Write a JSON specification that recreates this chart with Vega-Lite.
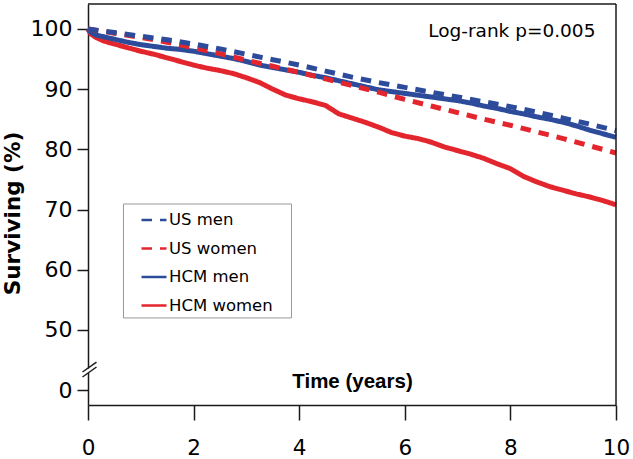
{
  "$schema": "https://vega.github.io/schema/vega-lite/v6.json",
  "width": 528,
  "height": 401,
  "autosize": {"type": "none"},
  "padding": {"left": 88, "top": 4, "right": 17, "bottom": 54},
  "config": {
    "view": {"stroke": null},
    "font": "DejaVu Sans",
    "axis": {"grid": false, "domainColor": "#1a1a1a", "tickColor": "#1a1a1a", "domainWidth": 1.5, "tickWidth": 1.5, "labelColor": "black", "titleColor": "black", "labelFont": "DejaVu Sans", "titleFont": "DejaVu Sans"}
  },
  "datasets": {
    "hcm": [
      {"group": "HCM women", "t": 0, "v": 100}, {"group": "HCM women", "t": 0.05, "v": 99.2}, {"group": "HCM women", "t": 0.15, "v": 98.6}, {"group": "HCM women", "t": 0.3, "v": 98.0}, {"group": "HCM women", "t": 0.5, "v": 97.5}, {"group": "HCM women", "t": 0.75, "v": 96.9}, {"group": "HCM women", "t": 1.0, "v": 96.3}, {"group": "HCM women", "t": 1.25, "v": 95.8}, {"group": "HCM women", "t": 1.5, "v": 95.2}, {"group": "HCM women", "t": 1.75, "v": 94.6}, {"group": "HCM women", "t": 2.0, "v": 94.0}, {"group": "HCM women", "t": 2.25, "v": 93.5}, {"group": "HCM women", "t": 2.5, "v": 93.1}, {"group": "HCM women", "t": 2.75, "v": 92.6}, {"group": "HCM women", "t": 3.0, "v": 91.9}, {"group": "HCM women", "t": 3.25, "v": 91.1}, {"group": "HCM women", "t": 3.5, "v": 90.0}, {"group": "HCM women", "t": 3.75, "v": 89.0}, {"group": "HCM women", "t": 4.0, "v": 88.4}, {"group": "HCM women", "t": 4.25, "v": 87.9}, {"group": "HCM women", "t": 4.5, "v": 87.3}, {"group": "HCM women", "t": 4.75, "v": 85.9}, {"group": "HCM women", "t": 5.0, "v": 85.2}, {"group": "HCM women", "t": 5.25, "v": 84.5}, {"group": "HCM women", "t": 5.5, "v": 83.7}, {"group": "HCM women", "t": 5.75, "v": 82.8}, {"group": "HCM women", "t": 6.0, "v": 82.2}, {"group": "HCM women", "t": 6.25, "v": 81.8}, {"group": "HCM women", "t": 6.5, "v": 81.2}, {"group": "HCM women", "t": 6.75, "v": 80.4}, {"group": "HCM women", "t": 7.0, "v": 79.8}, {"group": "HCM women", "t": 7.25, "v": 79.2}, {"group": "HCM women", "t": 7.5, "v": 78.5}, {"group": "HCM women", "t": 7.75, "v": 77.6}, {"group": "HCM women", "t": 8.0, "v": 76.8}, {"group": "HCM women", "t": 8.25, "v": 75.5}, {"group": "HCM women", "t": 8.5, "v": 74.6}, {"group": "HCM women", "t": 8.75, "v": 73.8}, {"group": "HCM women", "t": 9.0, "v": 73.2}, {"group": "HCM women", "t": 9.25, "v": 72.6}, {"group": "HCM women", "t": 9.5, "v": 72.1}, {"group": "HCM women", "t": 9.75, "v": 71.5}, {"group": "HCM women", "t": 10.0, "v": 70.8},
      {"group": "HCM men", "t": 0, "v": 100}, {"group": "HCM men", "t": 0.05, "v": 99.5}, {"group": "HCM men", "t": 0.15, "v": 99.0}, {"group": "HCM men", "t": 0.3, "v": 98.7}, {"group": "HCM men", "t": 0.5, "v": 98.3}, {"group": "HCM men", "t": 0.75, "v": 97.8}, {"group": "HCM men", "t": 1.0, "v": 97.4}, {"group": "HCM men", "t": 1.25, "v": 97.1}, {"group": "HCM men", "t": 1.5, "v": 96.8}, {"group": "HCM men", "t": 1.75, "v": 96.6}, {"group": "HCM men", "t": 2.0, "v": 96.3}, {"group": "HCM men", "t": 2.25, "v": 95.9}, {"group": "HCM men", "t": 2.5, "v": 95.5}, {"group": "HCM men", "t": 2.75, "v": 95.1}, {"group": "HCM men", "t": 3.0, "v": 94.6}, {"group": "HCM men", "t": 3.25, "v": 94.0}, {"group": "HCM men", "t": 3.5, "v": 93.6}, {"group": "HCM men", "t": 3.75, "v": 93.2}, {"group": "HCM men", "t": 4.0, "v": 92.8}, {"group": "HCM men", "t": 4.25, "v": 92.3}, {"group": "HCM men", "t": 4.5, "v": 91.9}, {"group": "HCM men", "t": 4.75, "v": 91.4}, {"group": "HCM men", "t": 5.0, "v": 90.9}, {"group": "HCM men", "t": 5.25, "v": 90.4}, {"group": "HCM men", "t": 5.5, "v": 89.9}, {"group": "HCM men", "t": 5.75, "v": 89.6}, {"group": "HCM men", "t": 6.0, "v": 89.3}, {"group": "HCM men", "t": 6.25, "v": 89.0}, {"group": "HCM men", "t": 6.5, "v": 88.7}, {"group": "HCM men", "t": 6.75, "v": 88.4}, {"group": "HCM men", "t": 7.0, "v": 88.1}, {"group": "HCM men", "t": 7.25, "v": 87.7}, {"group": "HCM men", "t": 7.5, "v": 87.2}, {"group": "HCM men", "t": 7.75, "v": 86.8}, {"group": "HCM men", "t": 8.0, "v": 86.3}, {"group": "HCM men", "t": 8.25, "v": 85.9}, {"group": "HCM men", "t": 8.5, "v": 85.4}, {"group": "HCM men", "t": 8.75, "v": 85.0}, {"group": "HCM men", "t": 9.0, "v": 84.5}, {"group": "HCM men", "t": 9.25, "v": 83.9}, {"group": "HCM men", "t": 9.5, "v": 83.2}, {"group": "HCM men", "t": 9.75, "v": 82.6}, {"group": "HCM men", "t": 10.0, "v": 82.0}
    ],
    "us": [
      {"group": "US women", "t": 0, "v": 100}, {"group": "US women", "t": 0.5, "v": 99.3}, {"group": "US women", "t": 1, "v": 98.6}, {"group": "US women", "t": 1.5, "v": 97.8}, {"group": "US women", "t": 2, "v": 96.9}, {"group": "US women", "t": 2.5, "v": 95.9}, {"group": "US women", "t": 3, "v": 94.8}, {"group": "US women", "t": 3.5, "v": 93.8}, {"group": "US women", "t": 4, "v": 92.8}, {"group": "US women", "t": 4.5, "v": 91.7}, {"group": "US women", "t": 5, "v": 90.6}, {"group": "US women", "t": 5.5, "v": 89.5}, {"group": "US women", "t": 6, "v": 88.3}, {"group": "US women", "t": 6.5, "v": 87.2}, {"group": "US women", "t": 7, "v": 86.1}, {"group": "US women", "t": 7.5, "v": 85.0}, {"group": "US women", "t": 8, "v": 84.0}, {"group": "US women", "t": 8.5, "v": 82.9}, {"group": "US women", "t": 9, "v": 81.8}, {"group": "US women", "t": 9.5, "v": 80.6}, {"group": "US women", "t": 10, "v": 79.4},
      {"group": "US men", "t": 0, "v": 100}, {"group": "US men", "t": 0.5, "v": 99.4}, {"group": "US men", "t": 1, "v": 98.8}, {"group": "US men", "t": 1.5, "v": 98.2}, {"group": "US men", "t": 2, "v": 97.5}, {"group": "US men", "t": 2.5, "v": 96.7}, {"group": "US men", "t": 3, "v": 95.8}, {"group": "US men", "t": 3.5, "v": 94.9}, {"group": "US men", "t": 4, "v": 94.0}, {"group": "US men", "t": 4.5, "v": 93.0}, {"group": "US men", "t": 5, "v": 92.0}, {"group": "US men", "t": 5.5, "v": 91.1}, {"group": "US men", "t": 6, "v": 90.3}, {"group": "US men", "t": 6.5, "v": 89.5}, {"group": "US men", "t": 7, "v": 88.7}, {"group": "US men", "t": 7.5, "v": 87.9}, {"group": "US men", "t": 8, "v": 87.1}, {"group": "US men", "t": 8.5, "v": 86.2}, {"group": "US men", "t": 9, "v": 85.2}, {"group": "US men", "t": 9.5, "v": 84.2}, {"group": "US men", "t": 10, "v": 83.1}
    ],
    "brk": [
      {"seg": "a", "t": -0.104, "v": 43.02}, {"seg": "a", "t": 0.161, "v": 44.68},
      {"seg": "b", "t": -0.104, "v": 42.19}, {"seg": "b", "t": 0.161, "v": 43.85}
    ]
  },
  "encoding": {
    "x": {"field": "t", "type": "quantitative", "scale": {"domain": [0, 10], "nice": false, "zero": false},
      "axis": {"values": [0, 2, 4, 6, 8, 10], "title": "Time (years)", "titleFont": "Liberation Sans", "titleFontWeight": "bold", "titleFontSize": 20.5, "titleY": -24, "titleBaseline": "middle", "tickSize": 15, "labelFontSize": 21.5, "labelPadding": 17, "labelFlush": false}},
    "y": {"field": "v", "type": "quantitative", "scale": {"domain": [37.54, 104.15], "nice": false, "zero": false},
      "axis": {"values": [40, 50, 60, 70, 80, 90, 100], "labelExpr": "datum.value == 40 ? '0' : datum.label", "tickSize": 11, "labelPadding": 5, "labelFontSize": 22, "title": "Surviving (%)", "titleFontSize": 21.5, "titleFontWeight": "bold", "titleX": -75, "titleY": 209, "titleBaseline": "middle", "titleAlign": "center", "titleAngle": 270}}
  },
  "layer": [
    {
      "data": {"values": [{"t": 0.672, "t2": 3.854, "v": 70.93, "v2": 52.0}]},
      "mark": {"type": "rect", "fill": "white", "stroke": "#999999", "strokeWidth": 1},
      "encoding": {"x2": {"field": "t2"}, "y2": {"field": "v2"}}
    },
    {
      "data": {"name": "hcm"},
      "mark": {"type": "line", "strokeWidth": 5},
      "encoding": {
        "color": {"field": "group", "type": "nominal",
          "scale": {"domain": ["US men", "US women", "HCM men", "HCM women"], "range": ["#2D4B9B", "#E3262D", "#2D4B9B", "#E3262D"]},
          "legend": {"orient": "none", "legendX": 50, "legendY": 200, "title": null, "symbolType": "stroke", "symbolSize": 625, "symbolStrokeWidth": 2.5, "labelFontSize": 16.5, "labelFont": "DejaVu Sans", "labelColor": "black", "padding": 2, "rowPadding": 5.5, "labelOffset": 1, "strokeColor": null}},
        "strokeDash": {"field": "group", "type": "nominal",
          "scale": {"domain": ["US men", "US women", "HCM men", "HCM women"], "range": [[10.5, 8], [10.5, 8], [1, 0], [1, 0]]}}
      }
    },
    {
      "data": {"name": "us"},
      "mark": {"type": "line", "strokeWidth": 5},
      "encoding": {
        "color": {"field": "group", "type": "nominal"},
        "strokeDash": {"field": "group", "type": "nominal"}
      }
    },
    {
      "data": {"values": [{"t": 0, "t2": 10, "v": 104.15}]},
      "mark": {"type": "rule", "color": "#1a1a1a", "strokeWidth": 1.5},
      "encoding": {"x2": {"field": "t2"}}
    },
    {
      "data": {"values": [{"t": 10, "v": 37.54, "v2": 104.15}]},
      "mark": {"type": "rule", "color": "#1a1a1a", "strokeWidth": 1.5},
      "encoding": {"y2": {"field": "v2"}}
    },
    {
      "data": {"values": [{"t": -0.07, "t2": 0.07, "v": 42.9, "v2": 43.6}]},
      "mark": {"type": "rect", "color": "white"},
      "encoding": {"x2": {"field": "t2"}, "y2": {"field": "v2"}}
    },
    {
      "data": {"name": "brk"},
      "mark": {"type": "line", "color": "#1a1a1a", "strokeWidth": 1.5},
      "encoding": {"detail": {"field": "seg", "type": "nominal"}}
    },
    {
      "data": {"values": [{"t": 9.61, "v": 99.67, "label": "Log-rank p=0.005"}]},
      "mark": {"type": "text", "align": "right", "baseline": "middle", "fontSize": 18.5, "font": "DejaVu Sans", "color": "black"},
      "encoding": {"text": {"field": "label"}}
    }
  ]
}
